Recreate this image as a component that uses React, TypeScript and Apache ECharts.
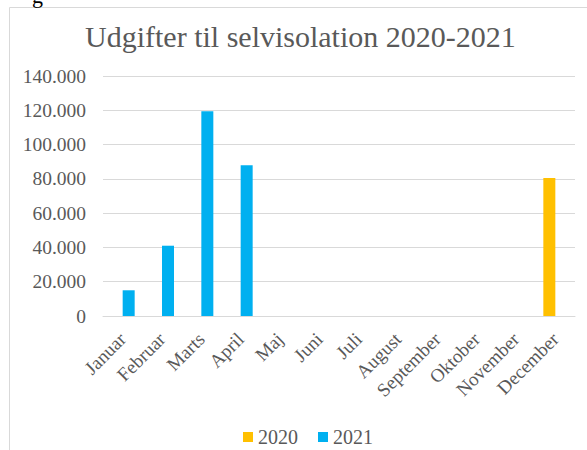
import React, { useEffect, useRef } from "react";
import * as echarts from "echarts";

const categories = ["Januar", "Februar", "Marts", "April", "Maj", "Juni", "Juli", "August", "September", "Oktober", "November", "December"];
const values2020 = [null, null, null, null, null, null, null, null, null, null, null, 80500];
const values2021 = [15000, 41000, 119500, 88000, null, null, null, null, null, null, null, null];
const seriesNames = ["2020", "2021"];
const titleText = "Udgifter til selvisolation 2020-2021";

const FONT = "Liberation Serif";
const GRAY = "#595959";

function fmt(v: number): string {
  if (v === 0) return "0";
  const s = String(Math.round(v));
  return s.replace(/\B(?=(\d{3})+(?!\d))/g, ".");
}

export default function App() {
  const ref = useRef<HTMLDivElement>(null);
  useEffect(() => {
    const chart = echarts.init(ref.current!, null, { renderer: "svg" });
    chart.setOption({
      animation: false,
      backgroundColor: "#ffffff",
      textStyle: { fontFamily: FONT },
      title: {
        text: titleText,
        left: 80,
        top: 16,
        textStyle: { fontFamily: FONT, fontSize: 30, fontWeight: "normal", color: GRAY },
      },
      graphic: [
        {
          type: "rect",
          shape: { x: 9.5, y: 7.5, width: 700, height: 600 },
          style: { fill: "none", stroke: "#d9d9d9", lineWidth: 1 },
          silent: true,
        },
        {
          type: "text",
          left: 32,
          top: -16,
          style: { text: "g", fontFamily: FONT, fontSize: 22, fill: "#000" },
          silent: true,
        },
      ],
      legend: {
        data: seriesNames,
        left: 238,
        top: 422,
        itemWidth: 10,
        itemHeight: 10,
        itemGap: 20,
        icon: "rect",
        formatter: "{s|{name}}",
        textStyle: {
          fontFamily: FONT,
          fontSize: 20,
          color: GRAY,
          rich: { s: { fontFamily: FONT, fontSize: 20, color: GRAY } },
        },
      },
      grid: { left: 103, right: 12, top: 76, bottom: 134, containLabel: false },
      xAxis: {
        type: "category",
        data: categories,
        axisLine: { show: true, lineStyle: { color: "#d9d9d9", width: 1 } },
        axisTick: { show: false },
        axisLabel: {
          rotate: 45,
          interval: 0,
          margin: 20,
          fontFamily: FONT,
          fontSize: 19,
          color: GRAY,
        },
      },
      yAxis: {
        type: "value",
        min: 0,
        max: 140000,
        interval: 20000,
        axisLine: { show: false },
        axisTick: { show: false },
        splitLine: { lineStyle: { color: "#d9d9d9", width: 1 } },
        axisLabel: {
          margin: 17,
          fontFamily: FONT,
          fontSize: 19.5,
          color: GRAY,
          formatter: (v: number) => fmt(v),
        },
      },
      series: [
        {
          name: seriesNames[0],
          type: "bar",
          data: values2020,
          barWidth: 12,
          barGap: "0%",
          itemStyle: { color: "#FFC000" },
        },
        {
          name: seriesNames[1],
          type: "bar",
          data: values2021,
          barWidth: 12,
          barGap: "0%",
          itemStyle: { color: "#00B0F0" },
        },
      ],
    });
    return () => chart.dispose();
  }, []);
  return <div ref={ref} style={{ position: "fixed", left: 0, top: 0, width: 587, height: 450 }} />;
}
